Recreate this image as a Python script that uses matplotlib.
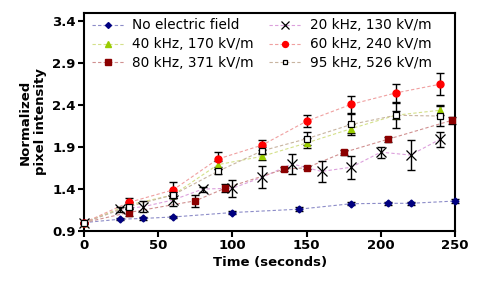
import matplotlib
matplotlib.use("Agg")
import matplotlib.pyplot as plt

# ---- data ----
t_none = [0, 24, 40, 60, 100, 145, 180, 205, 220, 250]
v_none = [1.0, 1.04, 1.05, 1.067, 1.12, 1.16, 1.225, 1.23, 1.23, 1.257]
e_none = [0, 0.015, 0.015, 0.015, 0.02, 0.02, 0.02, 0.02, 0.02, 0.02]

t_20 = [0, 24, 40, 60, 80, 100, 120, 140, 160, 180, 200, 220, 240]
v_20 = [1.0, 1.16, 1.19, 1.27, 1.40, 1.41, 1.54, 1.70, 1.61, 1.66, 1.84, 1.805, 1.995]
e_20 = [0, 0.03, 0.065, 0.07, 0.03, 0.1, 0.13, 0.12, 0.125, 0.14, 0.065, 0.18, 0.09]

t_40 = [0, 30, 60, 90, 120, 150, 180, 210, 240]
v_40 = [1.0, 1.21, 1.33, 1.69, 1.79, 1.95, 2.12, 2.28, 2.34]
e_40 = [0, 0.04, 0.04, 0.05, 0.04, 0.06, 0.05, 0.05, 0.06]

t_60 = [0, 30, 60, 90, 120, 150, 180, 210, 240]
v_60 = [1.0, 1.24, 1.39, 1.757, 1.924, 2.21, 2.41, 2.546, 2.65]
e_60 = [0, 0.05, 0.1, 0.09, 0.06, 0.07, 0.1, 0.11, 0.13]

t_80 = [0, 30, 75, 95, 135, 150, 175, 205, 248]
v_80 = [1.0, 1.12, 1.26, 1.41, 1.638, 1.654, 1.837, 1.995, 2.22]
e_80 = [0, 0.04, 0.07, 0.05, 0.02, 0.02, 0.03, 0.03, 0.04]

t_95 = [0, 30, 60, 90, 120, 150, 180, 210, 240]
v_95 = [1.0, 1.19, 1.33, 1.61, 1.856, 2.0, 2.17, 2.28, 2.27]
e_95 = [0, 0.03, 0.04, 0.03, 0.04, 0.08, 0.13, 0.15, 0.12]

labels = ["No electric field", "20 kHz, 130 kV/m", "40 kHz, 170 kV/m",
          "60 kHz, 240 kV/m", "80 kHz, 371 kV/m", "95 kHz, 526 kV/m"]
xticks = [0, 50, 100, 150, 200, 250]
yticks = [0.9, 1.4, 1.9, 2.4, 2.9, 3.4]

fig = plt.figure(figsize=(4.78, 2.81), dpi=100)
ax = fig.add_axes([0.176, 0.178, 0.776, 0.776])

series = [
    (t_none, v_none, e_none, dict(marker='D', ms=3.5, mfc='#000080', mec='#000080'), '#8c8cc8'),
    (t_20, v_20, e_20, dict(marker='x', ms=6.5, mfc='black', mec='black', mew=0.9), '#dca0dc'),
    (t_40, v_40, e_40, dict(marker='^', ms=5, mfc='#99cc00', mec='#99cc00'), '#d4e08a'),
    (t_60, v_60, e_60, dict(marker='o', ms=5, mfc='#ff0000', mec='#ff0000'), '#f0a0a0'),
    (t_80, v_80, e_80, dict(marker='s', ms=5, mfc='#8b0000', mec='#8b0000'), '#d09090'),
    (t_95, v_95, e_95, dict(marker='s', ms=4, mfc='white', mec='black', mew=0.9), '#c8b4a0'),
]

handles = []
for (t, v, e, mk, lc), lab in zip(series, labels):
    ax.plot(t, v, linestyle=(0, (3, 2)), color=lc, lw=0.8, zorder=2, clip_on=False)
    ax.errorbar(t, v, yerr=e, fmt='none', ecolor='black', elinewidth=1.0,
                capsize=3, capthick=1.0, zorder=3, clip_on=False)
    ax.plot(t, v, linestyle='none', zorder=4, clip_on=False, **mk)
    h, = ax.plot([], [], linestyle=(0, (3, 2)), color=lc, lw=0.8, label=lab, **mk)
    handles.append(h)

order = [0, 2, 4, 1, 3, 5]
leg = ax.legend([handles[i] for i in order], [labels[i] for i in order],
                ncol=2, loc='upper left', bbox_to_anchor=(0.02, 0.975),
                frameon=False, fontsize=9.8, handlelength=2.4, markerscale=0.85,
                handletextpad=0.6, columnspacing=1.1, labelspacing=0.36,
                borderpad=0, borderaxespad=0)

ax.set_xlim(0, 250)
ax.set_ylim(0.9, 3.5)
ax.set_xticks(xticks)
ax.set_yticks(yticks)
ax.set_xticklabels([str(x) for x in xticks], fontsize=9.5, fontweight='bold')
ax.set_yticklabels([f"{y:.1f}" for y in yticks], fontsize=9.5, fontweight='bold')
ax.tick_params(direction='out', length=4, width=1.5, pad=2)
for s in ax.spines.values():
    s.set_linewidth(1.5)
ax.set_xlabel("Time (seconds)", fontsize=9.5, fontweight='bold', labelpad=3)
ax.set_ylabel("Normalized\npixel intensity", fontsize=9.5, fontweight='bold', labelpad=4)

fig.savefig("out.png", dpi=100)
